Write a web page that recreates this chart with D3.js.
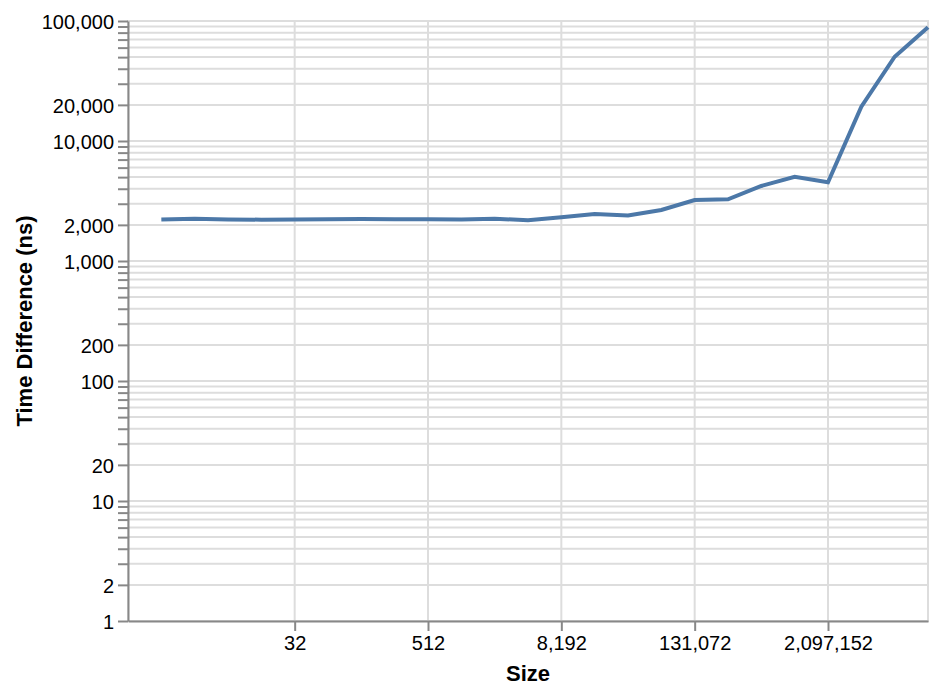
<!DOCTYPE html>
<html>
<head>
<meta charset="utf-8">
<script src="https://cdn.jsdelivr.net/npm/d3@7"></script>
<style>
  html, body { margin: 0; padding: 0; background: #fff; }
  svg { display: block; }
  text { font-family: "Liberation Sans", Arial, Helvetica, sans-serif; }
</style>
</head>
<body>
<svg id="chart" width="938" height="694"></svg>
<script>
// ---- data ----
const sizes = [2, 4, 8, 16, 32, 64, 128, 256, 512, 1024, 2048, 4096, 8192, 16384,
  32768, 65536, 131072, 262144, 524288, 1048576, 2097152, 4194304, 8388608, 16777216];
const timeDiff = [2220, 2250, 2220, 2210, 2220, 2230, 2240, 2230, 2230, 2220, 2250, 2190,
  2310, 2460, 2400, 2660, 3220, 3270, 4220, 5040, 4530, 19300, 50400, 88600];
const xTickValues = [32, 512, 8192, 131072, 2097152];
const yLabelValues = [1, 2, 10, 20, 100, 200, 1000, 2000, 10000, 20000, 100000];
const xDomain = [1, 16777216];
const yDomain = [1, 100000];
const xTitle = "Size";
const yTitle = "Time Difference (ns)";

// ---- layout ----
const mLeft = 128, mRight = 928, mTop = 21, mBottom = 621;
const svg = d3.select("#chart");
const fmt = d3.format(",");

const x = d3.scaleLog().base(2).domain(xDomain).range([mLeft, mRight]);
const y = d3.scaleLog().base(10).domain(yDomain).range([mBottom, mTop]);

const gridColor = "#ddd", axisColor = "#888";

// grid
const yTickAll = y.ticks();
svg.append("g").selectAll("line").data(yTickAll).join("line")
  .attr("x1", mLeft).attr("x2", mRight)
  .attr("y1", d => y(d)).attr("y2", d => y(d))
  .attr("stroke", gridColor).attr("stroke-width", 2);
svg.append("g").selectAll("line").data(xTickValues).join("line")
  .attr("x1", d => x(d)).attr("x2", d => x(d))
  .attr("y1", mTop).attr("y2", mBottom)
  .attr("stroke", gridColor).attr("stroke-width", 2);

// view border
svg.append("rect").attr("x", mLeft).attr("y", mTop)
  .attr("width", mRight - mLeft).attr("height", mBottom - mTop)
  .attr("fill", "none").attr("stroke", gridColor).attr("stroke-width", 2);

// x axis
const xAxis = d3.axisBottom(x).tickValues(xTickValues).tickFormat(fmt)
  .tickSizeInner(10).tickSizeOuter(0).tickPadding(4);
const gx = svg.append("g").attr("transform", `translate(0,${mBottom})`).call(xAxis);
gx.select(".domain").attr("stroke", axisColor).attr("stroke-width", 2);
gx.selectAll(".tick line").attr("stroke", axisColor).attr("stroke-width", 2);
gx.selectAll(".tick text").attr("fill", "#000").style("font-size", "20px")
  .attr("dy", "0.75em");

// y axis
const yAxis = d3.axisLeft(y).tickValues(yTickAll)
  .tickFormat(d => yLabelValues.includes(d) ? fmt(d) : "")
  .tickSizeInner(10).tickSizeOuter(0).tickPadding(4);
const gy = svg.append("g").attr("transform", `translate(${mLeft},0)`).call(yAxis);
gy.select(".domain").attr("stroke", axisColor).attr("stroke-width", 2);
gy.selectAll(".tick line").attr("stroke", axisColor).attr("stroke-width", 2);
gy.selectAll(".tick text").attr("fill", "#000").style("font-size", "20px")
  .attr("dy", "0.36em");

// titles
svg.append("text").attr("x", (mLeft + mRight) / 2).attr("y", 681)
  .attr("text-anchor", "middle").style("font-size", "22px").style("font-weight", "bold")
  .attr("fill", "#000").text(xTitle);
svg.append("text")
  .attr("transform", `translate(32,${(mTop + mBottom) / 2}) rotate(-90)`)
  .attr("text-anchor", "middle").style("font-size", "22px").style("font-weight", "bold")
  .attr("fill", "#000").text(yTitle);

// line
const line = d3.line().x((d, i) => x(sizes[i])).y(d => y(d));
svg.append("path").datum(timeDiff)
  .attr("d", line)
  .attr("fill", "none").attr("stroke", "#4c78a8").attr("stroke-width", 4);
</script>
</body>
</html>
